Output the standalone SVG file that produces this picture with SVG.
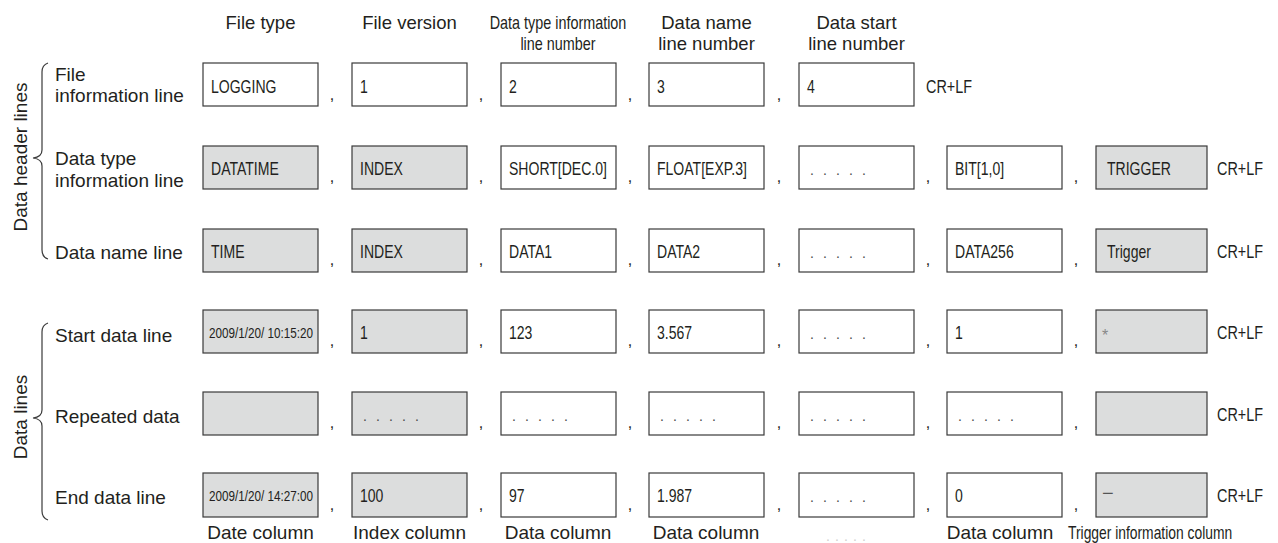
<svg xmlns="http://www.w3.org/2000/svg" width="1278" height="543" viewBox="0 0 1278 543">
<style>
text{font-family:"Liberation Sans",Arial,Helvetica,sans-serif;fill:#231f20}
.hd{font-size:18.5px;text-anchor:middle}
.lbl{font-size:19px}
.ft{font-size:19px;text-anchor:middle}
.c{font-size:18px}
.d{font-size:15px}
.cm{font-size:16px;text-anchor:middle}
.dots{font-size:14px;fill:#4a4a4a}
.box{fill:#fff;stroke:#3a3a3a;stroke-width:1.2}
.g{fill:#dcdddd}
.brace{fill:none;stroke:#3a3a3a;stroke-width:1.2}
</style>
<rect width="1278" height="543" fill="#fff"/>

<g id="headers">
<text class="hd" x="260.5" y="29">File type</text>
<text class="hd" x="409.5" y="29">File version</text>
<text class="c" text-anchor="middle" transform="translate(558,29) scale(0.8,1)">Data type information</text>
<text class="c" text-anchor="middle" transform="translate(558,50) scale(0.8,1)">line number</text>
<text class="hd" x="706.5" y="29">Data name</text>
<text class="hd" x="706.5" y="50">line number</text>
<text class="hd" x="856.5" y="29">Data start</text>
<text class="hd" x="856.5" y="50">line number</text>
</g>

<g id="group-labels">
<text class="lbl" text-anchor="middle" transform="translate(27,157) rotate(-90)">Data header lines</text>
<text class="lbl" text-anchor="middle" transform="translate(27,417) rotate(-90)">Data lines</text>
</g>

<g id="braces">
<path class="brace" d="M48,63 Q42,65 42,72 L42,150 Q42,157 33,158 Q42,159 42,166 L42,250 Q42,257 48,259"/>
<path class="brace" d="M48,323 Q42,325 42,332 L42,410 Q42,417 33,418 Q42,419 42,426 L42,511 Q42,518 48,520"/>
</g>

<g id="row-labels">
<text class="lbl" x="55" y="81">File</text>
<text class="lbl" x="55" y="102">information line</text>
<text class="lbl" x="55" y="165">Data type</text>
<text class="lbl" x="55" y="187">information line</text>
<text class="lbl" x="55" y="259">Data name line</text>
<text class="lbl" x="55" y="342">Start data line</text>
<text class="lbl" x="55" y="423">Repeated data</text>
<text class="lbl" x="55" y="504">End data line</text>
</g>

<g id="row1">
<rect class="box" x="203" y="63" width="115" height="43"/>
<rect class="box" x="352" y="63" width="115" height="43"/>
<rect class="box" x="501" y="63" width="115" height="43"/>
<rect class="box" x="649" y="63" width="115" height="43"/>
<rect class="box" x="799" y="63" width="115" height="43"/>
<text class="c" transform="translate(211,93) scale(0.78,1)">LOGGING</text>
<text class="c" transform="translate(360,93) scale(0.78,1)">1</text>
<text class="c" transform="translate(509,93) scale(0.78,1)">2</text>
<text class="c" transform="translate(657,93) scale(0.78,1)">3</text>
<text class="c" transform="translate(807,93) scale(0.78,1)">4</text>
<text class="cm" x="332" y="100">,</text>
<text class="cm" x="481" y="100">,</text>
<text class="cm" x="630" y="100">,</text>
<text class="cm" x="779" y="100">,</text>
<text class="c" transform="translate(926,93) scale(0.8,1)">CR+LF</text>
</g>

<g id="row2">
<rect class="box g" x="203" y="146" width="115" height="43"/>
<rect class="box g" x="352" y="146" width="115" height="43"/>
<rect class="box" x="501" y="146" width="115" height="43"/>
<rect class="box" x="649" y="146" width="115" height="43"/>
<rect class="box" x="799" y="146" width="115" height="43"/>
<rect class="box" x="947" y="146" width="115" height="43"/>
<rect class="box g" x="1096" y="146" width="111" height="43"/>
<text class="c" transform="translate(211,175) scale(0.78,1)">DATATIME</text>
<text class="c" transform="translate(360,175) scale(0.78,1)">INDEX</text>
<text class="c" transform="translate(509,175) scale(0.78,1)">SHORT[DEC.0]</text>
<text class="c" transform="translate(657,175) scale(0.78,1)">FLOAT[EXP.3]</text>
<text class="dots" x="810 823 836 849 862" y="175">.....</text>
<text class="c" transform="translate(955,175) scale(0.78,1)">BIT[1,0]</text>
<text class="c" transform="translate(1107,175) scale(0.78,1)">TRIGGER</text>
<text class="cm" x="332" y="182">,</text>
<text class="cm" x="481" y="182">,</text>
<text class="cm" x="630" y="182">,</text>
<text class="cm" x="779" y="182">,</text>
<text class="cm" x="928" y="182">,</text>
<text class="cm" x="1076" y="182">,</text>
<text class="c" transform="translate(1217,175) scale(0.8,1)">CR+LF</text>
</g>

<g id="row3">
<rect class="box g" x="203" y="229" width="115" height="43"/>
<rect class="box g" x="352" y="229" width="115" height="43"/>
<rect class="box" x="501" y="229" width="115" height="43"/>
<rect class="box" x="649" y="229" width="115" height="43"/>
<rect class="box" x="799" y="229" width="115" height="43"/>
<rect class="box" x="947" y="229" width="115" height="43"/>
<rect class="box g" x="1096" y="229" width="111" height="43"/>
<text class="c" transform="translate(211,258) scale(0.78,1)">TIME</text>
<text class="c" transform="translate(360,258) scale(0.78,1)">INDEX</text>
<text class="c" transform="translate(509,258) scale(0.78,1)">DATA1</text>
<text class="c" transform="translate(657,258) scale(0.78,1)">DATA2</text>
<text class="dots" x="810 823 836 849 862" y="258">.....</text>
<text class="c" transform="translate(955,258) scale(0.78,1)">DATA256</text>
<text class="c" transform="translate(1107,258) scale(0.78,1)">Trigger</text>
<text class="cm" x="332" y="265">,</text>
<text class="cm" x="481" y="265">,</text>
<text class="cm" x="630" y="265">,</text>
<text class="cm" x="779" y="265">,</text>
<text class="cm" x="928" y="265">,</text>
<text class="cm" x="1076" y="265">,</text>
<text class="c" transform="translate(1217,258) scale(0.8,1)">CR+LF</text>
</g>

<g id="row4">
<rect class="box g" x="203" y="310" width="115" height="43"/>
<rect class="box g" x="352" y="310" width="115" height="43"/>
<rect class="box" x="501" y="310" width="115" height="43"/>
<rect class="box" x="649" y="310" width="115" height="43"/>
<rect class="box" x="799" y="310" width="115" height="43"/>
<rect class="box" x="947" y="310" width="115" height="43"/>
<rect class="box g" x="1096" y="310" width="111" height="43"/>
<text class="d" transform="translate(209,338) scale(0.78,1)">2009/1/20/ 10:15:20</text>
<text class="c" transform="translate(360,339) scale(0.78,1)">1</text>
<text class="c" transform="translate(509,339) scale(0.78,1)">123</text>
<text class="c" transform="translate(657,339) scale(0.78,1)">3.567</text>
<text class="dots" x="810 823 836 849 862" y="339">.....</text>
<text class="c" transform="translate(955,339) scale(0.78,1)">1</text>
<text x="1102" y="341" font-size="16" style="fill:#888">*</text>
<text class="cm" x="332" y="346">,</text>
<text class="cm" x="481" y="346">,</text>
<text class="cm" x="630" y="346">,</text>
<text class="cm" x="779" y="346">,</text>
<text class="cm" x="928" y="346">,</text>
<text class="cm" x="1076" y="346">,</text>
<text class="c" transform="translate(1217,339) scale(0.8,1)">CR+LF</text>
</g>

<g id="row5">
<rect class="box g" x="203" y="392" width="115" height="43"/>
<rect class="box g" x="352" y="392" width="115" height="43"/>
<rect class="box" x="501" y="392" width="115" height="43"/>
<rect class="box" x="649" y="392" width="115" height="43"/>
<rect class="box" x="799" y="392" width="115" height="43"/>
<rect class="box" x="947" y="392" width="115" height="43"/>
<rect class="box g" x="1096" y="392" width="111" height="43"/>
<text class="dots" x="363 376 389 402 415" y="421">.....</text>
<text class="dots" x="512 525 538 551 564" y="421">.....</text>
<text class="dots" x="660 673 686 699 712" y="421">.....</text>
<text class="dots" x="810 823 836 849 862" y="421">.....</text>
<text class="dots" x="958 971 984 997 1010" y="421">.....</text>
<text class="cm" x="332" y="428">,</text>
<text class="cm" x="481" y="428">,</text>
<text class="cm" x="630" y="428">,</text>
<text class="cm" x="779" y="428">,</text>
<text class="cm" x="928" y="428">,</text>
<text class="cm" x="1076" y="428">,</text>
<text class="c" transform="translate(1217,421) scale(0.8,1)">CR+LF</text>
</g>

<g id="row6">
<rect class="box g" x="203" y="473" width="115" height="44"/>
<rect class="box g" x="352" y="473" width="115" height="44"/>
<rect class="box" x="501" y="473" width="115" height="44"/>
<rect class="box" x="649" y="473" width="115" height="44"/>
<rect class="box" x="799" y="473" width="115" height="44"/>
<rect class="box" x="947" y="473" width="115" height="44"/>
<rect class="box g" x="1096" y="473" width="111" height="44"/>
<text class="d" transform="translate(209,501) scale(0.78,1)">2009/1/20/ 14:27:00</text>
<text class="c" transform="translate(360,502) scale(0.78,1)">100</text>
<text class="c" transform="translate(509,502) scale(0.78,1)">97</text>
<text class="c" transform="translate(657,502) scale(0.78,1)">1.987</text>
<text class="dots" x="810 823 836 849 862" y="502">.....</text>
<text class="c" transform="translate(955,502) scale(0.78,1)">0</text>
<text x="1102" y="500" font-size="20" style="fill:#555">−</text>
<text class="cm" x="332" y="510">,</text>
<text class="cm" x="481" y="510">,</text>
<text class="cm" x="630" y="510">,</text>
<text class="cm" x="779" y="510">,</text>
<text class="cm" x="928" y="510">,</text>
<text class="cm" x="1076" y="510">,</text>
<text class="c" transform="translate(1217,502) scale(0.8,1)">CR+LF</text>
</g>

<g id="column-labels">
<text class="ft" x="260.5" y="539">Date column</text>
<text class="ft" x="409.5" y="539">Index column</text>
<text class="ft" x="558" y="539">Data column</text>
<text class="ft" x="706" y="539">Data column</text>
<text class="dots" x="826 835 844 853 862" y="541" style="fill:#d0d0d0">.....</text>
<text class="ft" x="1000" y="539">Data column</text>
<text class="c" transform="translate(1068,539) scale(0.77,1)">Trigger information column</text>
</g>
</svg>
